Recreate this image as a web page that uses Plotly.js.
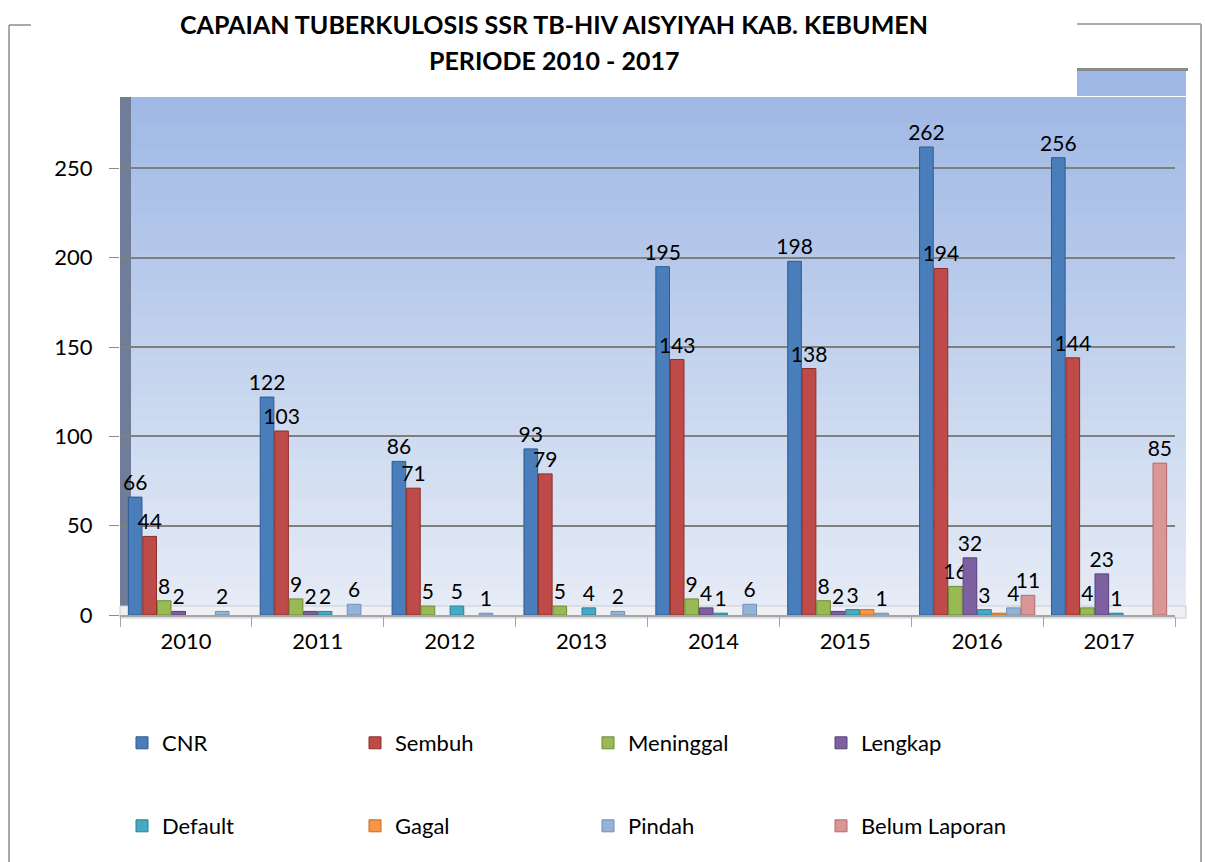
<!DOCTYPE html>
<html>
<head>
<meta charset="utf-8">
<script src="https://cdn.plot.ly/plotly-3.0.1.min.js"></script>
<style>
  body { margin: 0; background: #fff; }
  #chart { width: 1205px; height: 862px; }
</style>
</head>
<body>
<div id="chart"></div>
<script>
// data
var years = ['2010', '2011', '2012', '2013', '2014', '2015', '2016', '2017'];
var cnr       = [66, 122, 86, 93, 195, 198, 262, 256];
var sembuh    = [44, 103, 71, 79, 143, 138, 194, 144];
var meninggal = [8, 9, 5, 5, 9, 8, 16, 4];
var lengkap   = [2, 2, null, null, 4, 2, 32, 23];
var defaultTb = [null, 2, 5, 4, 1, 3, 3, 1];
var gagal     = [null, null, null, null, null, 3, 1, null];
var pindah    = [2, 6, 1, 2, 6, 1, 4, null];
var belum     = [null, null, null, null, null, null, 11, 85];

var seriesNames = ['CNR', 'Sembuh', 'Meninggal', 'Lengkap', 'Default', 'Gagal', 'Pindah', 'Belum Laporan'];
var seriesVals = [cnr, sembuh, meninggal, lengkap, defaultTb, gagal, pindah, belum];
var colors = ['#4a7ebb', '#be4b48', '#98b954', '#7d60a0', '#46aac5', '#f79646', '#95b3d7', '#d99694'];
var edges  = ['#2c5a94', '#8c2e2b', '#6f8c35', '#5a3f7c', '#2b8099', '#c46c20', '#6f8fbd', '#b36a68'];

var font = 'Lato, "Open Sans", sans-serif';

// plot area in pixels
var W = 1205, H = 862;
var L = 120, R = 1175, T = 97, B = 615;
function px(x) { return (x - L) / (R - L); }
function py(y) { return (B - y) / (B - T); }

var traces = seriesNames.map(function (name, i) {
  return {
    type: 'bar',
    name: name,
    x: years,
    y: seriesVals[i],
    marker: { color: colors[i], line: { color: edges[i], width: 1 } },
    text: seriesVals[i].map(function (v) { return v == null ? '' : String(v); }),
    textposition: name === 'Gagal' ? 'none' : 'outside',
    constraintext: 'none',
    textfont: { family: font, size: 21, color: '#000' },
    cliponaxis: false,
    hoverinfo: 'x+y+name',
    legend: i < 4 ? 'legend' : 'legend2'
  };
});

// gradient background made from strips
var shapes = [];
var topCol = [160, 185, 229], botCol = [230, 236, 246];
var n = 40;
for (var k = 0; k < n; k++) {
  var t = k / (n - 1);
  var c = topCol.map(function (v, j) { return Math.round(v + (botCol[j] - v) * t); });
  shapes.push({
    type: 'rect', xref: 'paper', yref: 'paper', layer: 'below',
    x0: px(128), x1: px(1186),
    y0: py(Math.min(B, T + (B - T) * (k + 1) / n + 1)), y1: py(T + (B - T) * k / n),
    fillcolor: 'rgb(' + c.join(',') + ')', line: { width: 0 }
  });
}
// raised back wall piece top right, with its grey top edge
shapes.push({ type: 'rect', xref: 'paper', yref: 'paper', layer: 'below',
  x0: px(1077), x1: px(1186), y0: py(T - 1), y1: py(70),
  fillcolor: 'rgb(158,183,228)', line: { width: 0 } });
shapes.push({ type: 'rect', xref: 'paper', yref: 'paper', layer: 'above',
  x0: px(1077), x1: px(1188), y0: py(71), y1: py(68),
  fillcolor: '#8a8a8a', line: { width: 0 } });
// left wall
shapes.push({ type: 'rect', xref: 'paper', yref: 'paper', layer: 'below',
  x0: px(120), x1: px(131), y0: py(B), y1: py(T),
  fillcolor: '#6f7d99', line: { width: 0 } });
// floor
shapes.push({ type: 'rect', xref: 'paper', yref: 'paper', layer: 'below',
  x0: px(120), x1: px(1186), y0: py(618), y1: py(606),
  fillcolor: '#eef0f4', line: { color: '#c8ccd4', width: 1 } });
// outer frame
var frame = { color: '#8c8c8c', width: 1.5 };
shapes.push({ type: 'line', xref: 'paper', yref: 'paper', x0: px(9), x1: px(9), y0: py(25), y1: py(870), line: frame });
shapes.push({ type: 'line', xref: 'paper', yref: 'paper', x0: px(9), x1: px(31), y0: py(25), y1: py(25), line: frame });
shapes.push({ type: 'line', xref: 'paper', yref: 'paper', x0: px(1077), x1: px(1201), y0: py(24), y1: py(24), line: frame });
shapes.push({ type: 'line', xref: 'paper', yref: 'paper', x0: px(1201), x1: px(1201), y0: py(24), y1: py(870), line: frame });

var titleFont = { family: font, size: 25, color: '#000', weight: 'bold' };

var layout = {
  width: W, height: H,
  margin: { l: L, r: W - R, t: T, b: H - B },
  paper_bgcolor: '#fff',
  plot_bgcolor: 'rgba(0,0,0,0)',
  font: { family: font, size: 22, color: '#000' },
  annotations: [
    { text: 'CAPAIAN TUBERKULOSIS SSR TB-HIV AISYIYAH KAB. KEBUMEN', xref: 'paper', yref: 'paper',
      x: px(554), y: py(24), xanchor: 'center', yanchor: 'middle', showarrow: false, font: titleFont },
    { text: 'PERIODE 2010 - 2017', xref: 'paper', yref: 'paper',
      x: px(554), y: py(60), xanchor: 'center', yanchor: 'middle', showarrow: false, font: titleFont }
  ],
  barmode: 'group',
  bargap: 0.12,
  bargroupgap: 0.06,
  xaxis: {
    type: 'category',
    showgrid: false,
    showline: true, linecolor: '#a6a6a6', linewidth: 1.5,
    ticks: 'outside', tickson: 'boundaries', ticklen: 10, tickcolor: '#a6a6a6',
    tickfont: { family: font, size: 22 },
    ticklabelstandoff: 6
  },
  yaxis: {
    range: [0, 290],
    tickvals: [0, 50, 100, 150, 200, 250],
    showgrid: true, gridcolor: '#7f7f7f', gridwidth: 2,
    zeroline: false,
    showline: false,
    ticks: 'outside', ticklen: 10, tickcolor: '#8c8c8c',
    tickfont: { family: font, size: 22 },
    ticklabelstandoff: 12
  },
  legend: {
    orientation: 'h', x: px(122), xanchor: 'left', y: py(743), yanchor: 'middle',
    entrywidth: 188, entrywidthmode: 'pixels',
    font: { family: font, size: 22 }, itemwidth: 30, traceorder: 'normal'
  },
  legend2: {
    orientation: 'h', x: px(122), xanchor: 'left', y: py(826), yanchor: 'middle',
    entrywidth: 188, entrywidthmode: 'pixels',
    font: { family: font, size: 22 }, itemwidth: 30, traceorder: 'normal'
  },
  shapes: shapes
};

Plotly.newPlot('chart', traces, layout, { displayModeBar: false });
</script>
</body>
</html>
